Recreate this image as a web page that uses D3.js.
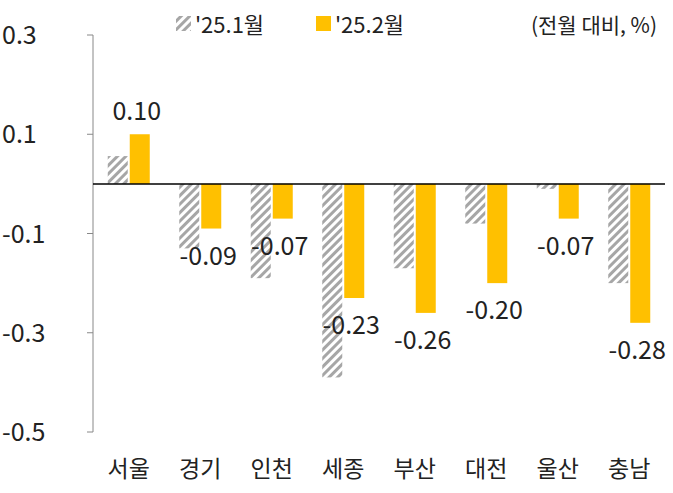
<!DOCTYPE html><html><head><meta charset="utf-8"><script src="https://cdn.jsdelivr.net/npm/d3@7"></script>
<style>body{margin:0;background:#fff}text{font-family:"Noto Sans CJK KR","Noto Sans",sans-serif;fill:#222}</style></head><body><svg id="c" width="673" height="493"></svg><script>
const categories=["서울","경기","인천","세종","부산","대전","울산","충남"];
const jan=[0.056,-0.13,-0.19,-0.39,-0.17,-0.08,-0.01,-0.20];
const feb=[0.10,-0.09,-0.07,-0.23,-0.26,-0.20,-0.07,-0.28];
const ticks=[0.3,0.1,-0.1,-0.3,-0.5];
const svg=d3.select("#c");
const defs=svg.append("defs");
const p=defs.append("pattern").attr("id","h").attr("width",6).attr("height",6).attr("patternUnits","userSpaceOnUse").attr("patternTransform","rotate(45)");
p.append("rect").attr("width",6).attr("height",6).attr("fill","#fff");
p.append("rect").attr("width",3).attr("height",6).attr("fill","#a6a6a6");
const y=d3.scaleLinear().domain([-0.5,0.3]).range([432,35]);
const x=d3.scaleBand().domain(categories).range([93,665]);
svg.append("line").attr("x1",93).attr("x2",93).attr("y1",35).attr("y2",432).attr("stroke","#888");
ticks.forEach(t=>{svg.append("line").attr("x1",87).attr("x2",93).attr("y1",y(t)).attr("y2",y(t)).attr("stroke","#888");
svg.append("text").attr("x",2).attr("y",y(t)+9).attr("font-size",25).text(t<0?"-"+Math.abs(t).toFixed(1):t.toFixed(1));});
const bw=20;
categories.forEach((c,i)=>{const cx=x(c)+x.bandwidth()/2;
svg.append("rect").attr("x",cx-bw-1).attr("width",bw).attr("y",y(Math.max(0,jan[i]))).attr("height",Math.abs(y(jan[i])-y(0))).attr("fill","url(#h)");
svg.append("rect").attr("x",cx+1).attr("width",bw).attr("y",y(Math.max(0,feb[i]))).attr("height",Math.abs(y(feb[i])-y(0))).attr("fill","#FFC000");
const v=feb[i];
svg.append("text").attr("x",cx+8).attr("y",v>0?y(v)-14:y(v)+36).attr("text-anchor","middle").attr("font-size",25).text(v<0?"-"+Math.abs(v).toFixed(2):v.toFixed(2));
svg.append("text").attr("x",cx).attr("y",477).attr("text-anchor","middle").attr("font-size",23).text(c);});
svg.append("line").attr("x1",93).attr("x2",665).attr("y1",y(0)).attr("y2",y(0)).attr("stroke","#000").attr("stroke-width",1.5);
svg.append("rect").attr("x",176).attr("y",16).attr("width",15).attr("height",15).attr("fill","url(#h)");
svg.append("text").attr("x",195).attr("y",33).attr("font-size",22).text("'25.1월");
svg.append("rect").attr("x",316).attr("y",16).attr("width",15).attr("height",15).attr("fill","#FFC000");
svg.append("text").attr("x",335).attr("y",33).attr("font-size",22).text("'25.2월");
svg.append("text").attr("x",657).attr("y",33).attr("text-anchor","end").attr("font-size",21).text("(전월 대비, %)");
</script></body></html>
